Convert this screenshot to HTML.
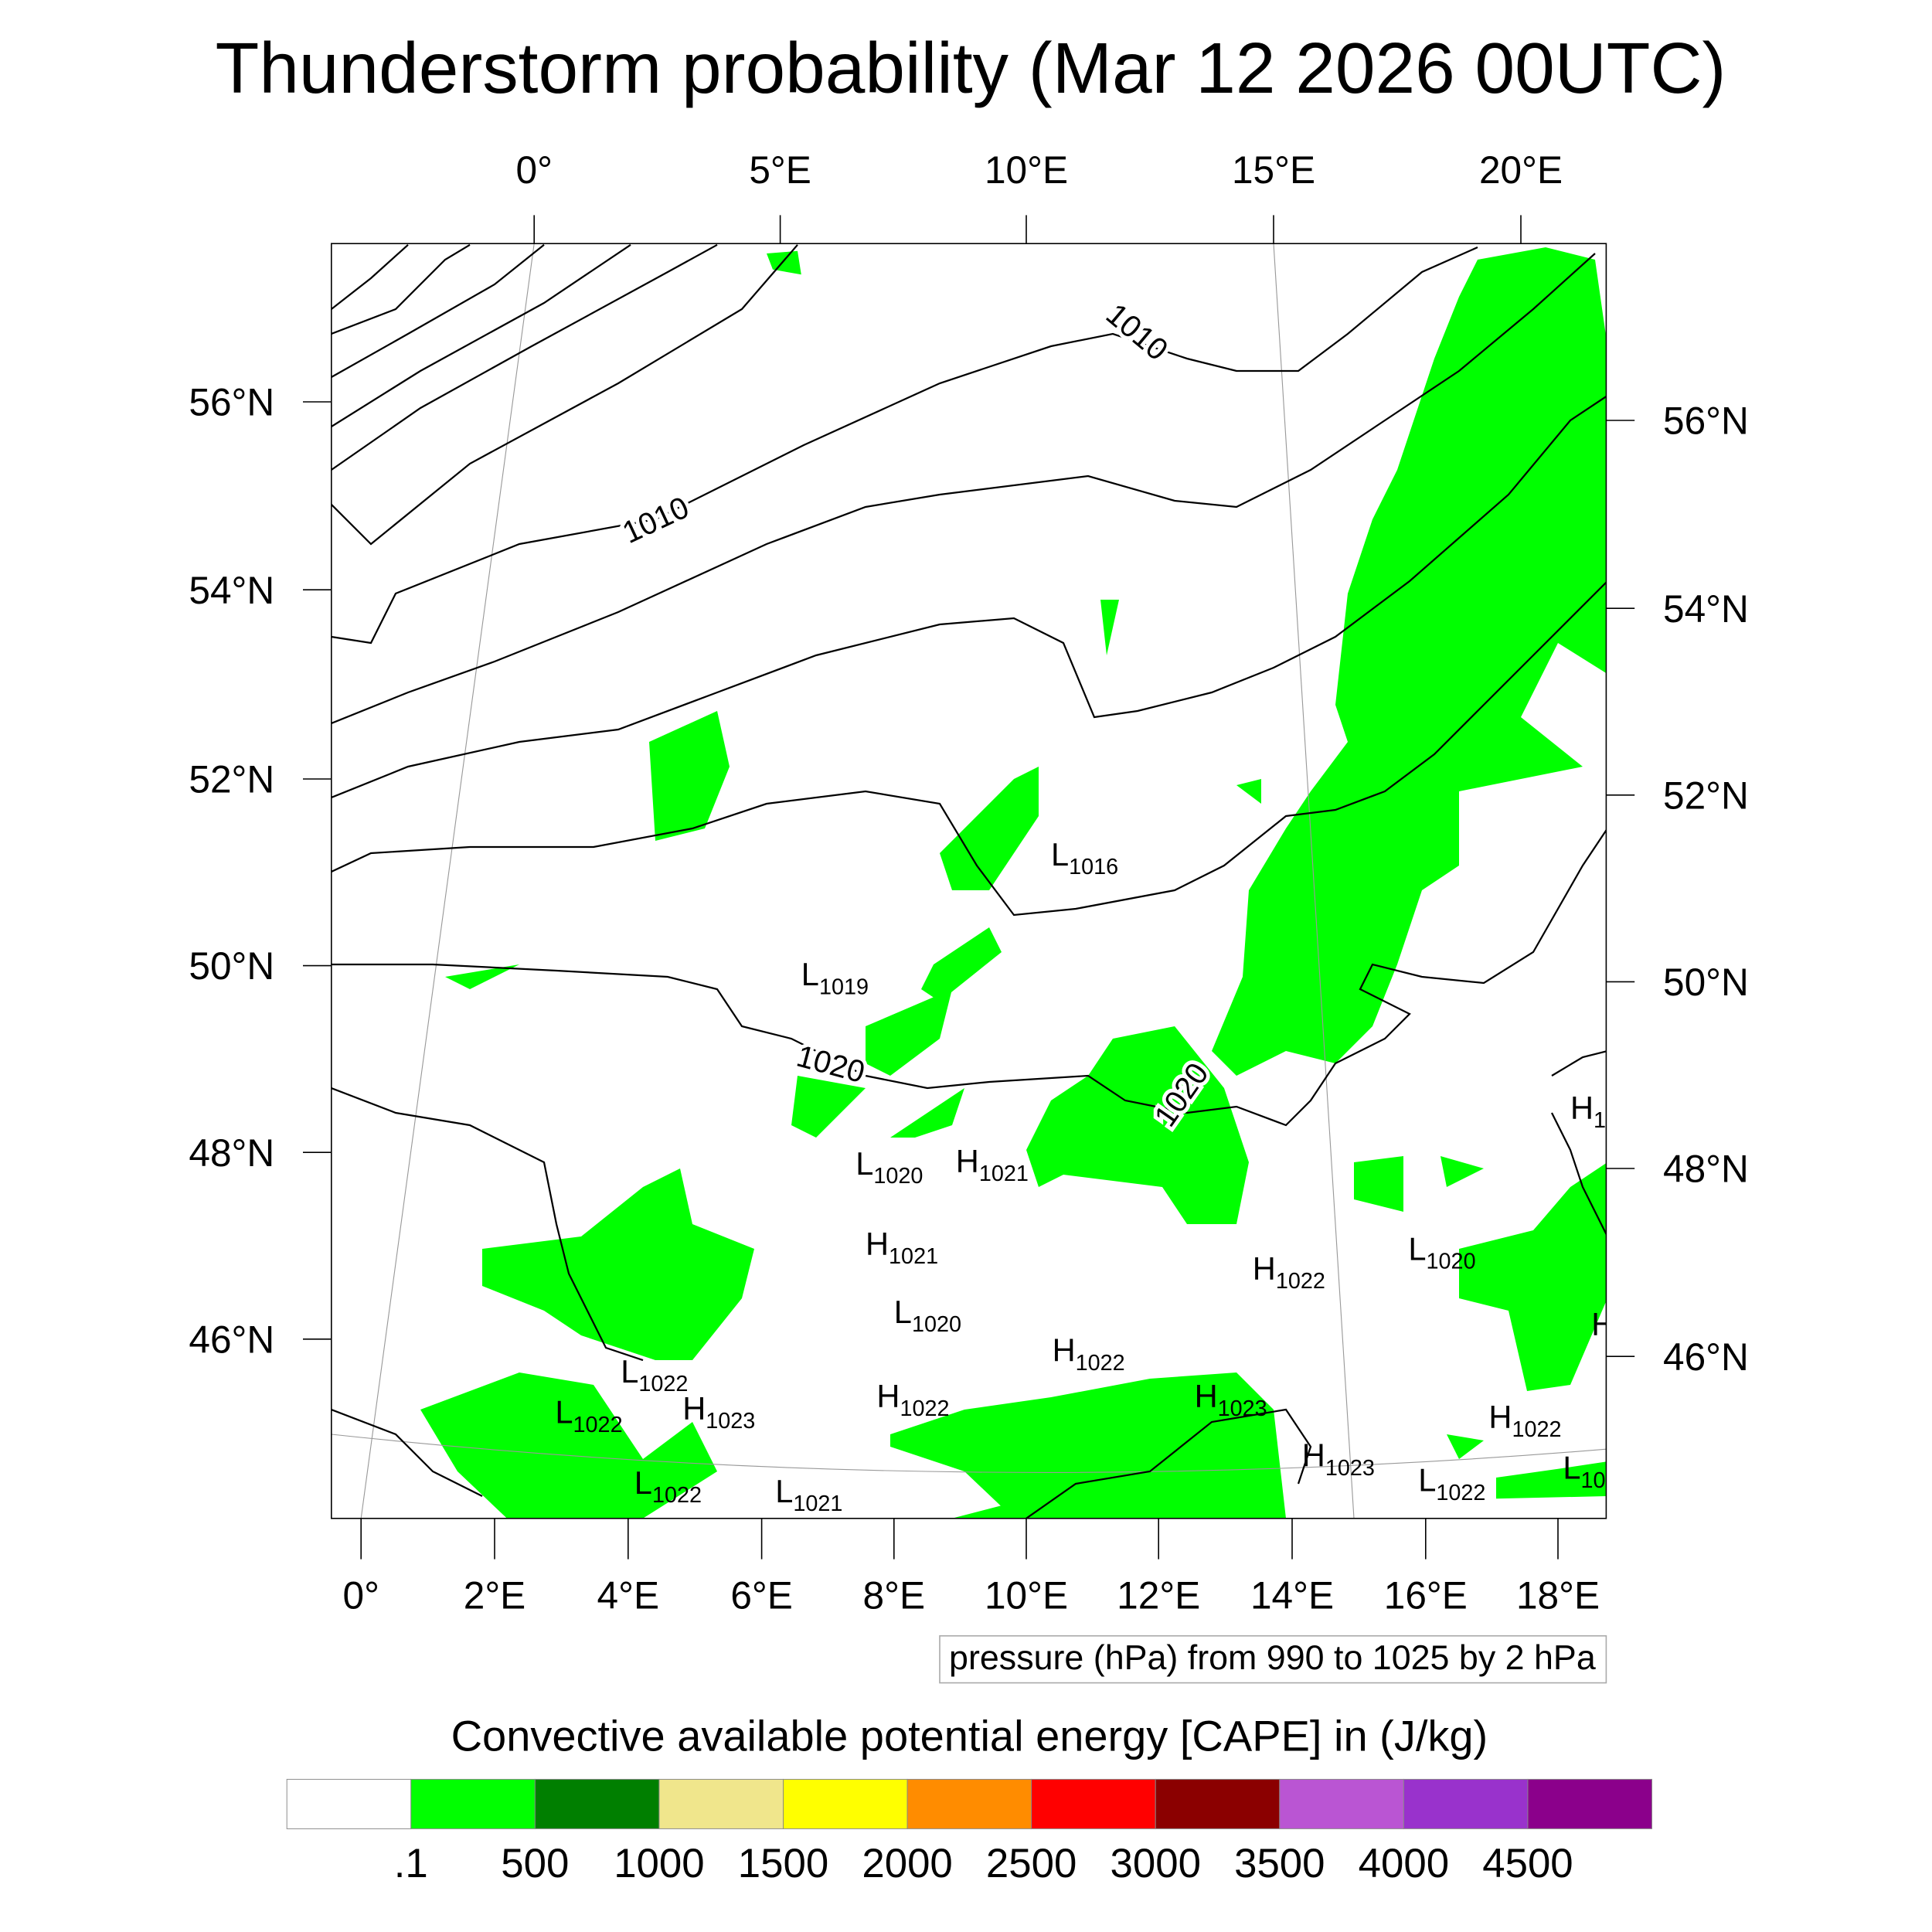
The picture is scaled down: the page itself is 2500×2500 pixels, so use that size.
<!DOCTYPE html>
<html><head><meta charset="utf-8"><style>
html,body{margin:0;padding:0;background:#fff}
svg{display:block}
text{font-family:"Liberation Sans",sans-serif;fill:#000}
</style></head><body>
<svg width="2500" height="2500" viewBox="0 0 1562.5 1562.5">
<rect width="1562.5" height="1562.5" fill="#fff"/>
<text x="785" y="75" font-size="58" text-anchor="middle">Thunderstorm probability (Mar 12 2026 00UTC)</text>
<defs><clipPath id="mc"><rect x="268" y="197" width="1031" height="1031"/></clipPath></defs>
<g id="map" clip-path="url(#mc)"></g>
<rect x="268" y="197" width="1031" height="1031" fill="none" stroke="#000" stroke-width="1"/>
<g id="axes"></g>
<rect x="760" y="1323" width="539" height="38" fill="#fff" stroke="#aaa" stroke-width="1"/>
<text x="1029" y="1350" font-size="28" text-anchor="middle">pressure (hPa) from 990 to 1025 by 2 hPa</text>
<text x="784" y="1416" font-size="35" text-anchor="middle">Convective available potential energy [CAPE] in (J/kg)</text>
<g id="cbar"></g>
</svg>
<script>
const NS='http://www.w3.org/2000/svg';
function mk(tag,attrs,parent,txt){const e=document.createElementNS(NS,tag);for(const k in attrs)e.setAttribute(k,attrs[k]);if(txt!==undefined)e.textContent=txt;parent.appendChild(e);return e;}
const map=document.getElementById('map'),axes=document.getElementById('axes'),cbar=document.getElementById('cbar');

// colorbar data
const cbLevels=['.1','500','1000','1500','2000','2500','3000','3500','4000','4500'];
const cbColors=['#ffffff','#00ff00','#007f00','#f0e68c','#ffff00','#ff8c00','#ff0000','#8b0000','#ba55d3','#9932cc','#8b008b'];
const cbX0=232,cbW=100.36,cbY=1439,cbH=40;
cbColors.forEach((c,i)=>{const r=mk('rect',{x:cbX0+i*cbW,y:cbY,width:cbW,height:cbH,fill:c,stroke:'#888','stroke-width':0.6},cbar);

});
cbLevels.forEach((l,i)=>{const t=mk('text',{x:cbX0+(i+1)*cbW,y:1518,'font-size':33,'text-anchor':'middle'},cbar,l);

});

// axis labels
const topLon=['0°','5°E','10°E','15°E','20°E'];const topX=[432,631,830,1030,1230];
topLon.forEach((l,i)=>{mk('line',{x1:topX[i],y1:174,x2:topX[i],y2:197,stroke:'#000'},axes);
const t=mk('text',{x:topX[i],y:148,'font-size':31,'text-anchor':'middle'},axes,l);

});
const botLon=['0°','2°E','4°E','6°E','8°E','10°E','12°E','14°E','16°E','18°E'];const botX=[292,400,508,616,723,830,937,1045,1153,1260];
botLon.forEach((l,i)=>{mk('line',{x1:botX[i],y1:1228,x2:botX[i],y2:1261,stroke:'#000'},axes);
const t=mk('text',{x:botX[i],y:1301,'font-size':31,'text-anchor':'middle'},axes,l);

});
const lats=['56°N','54°N','52°N','50°N','48°N','46°N'];const leftY=[325,477,630,781,932,1083];const rightY=[340,492,643,794,945,1097];
lats.forEach((l,i)=>{mk('line',{x1:245,y1:leftY[i],x2:268,y2:leftY[i],stroke:'#000'},axes);
const a=mk('text',{x:222,y:leftY[i]+11,'font-size':31,'text-anchor':'end'},axes,l);


mk('line',{x1:1299,y1:rightY[i],x2:1322,y2:rightY[i],stroke:'#000'},axes);
const b=mk('text',{x:1345,y:rightY[i]+11,'font-size':31},axes,l);

});

// green CAPE areas
const greenAreas=[
[[1195,210],[1250,200],[1290,210],[1300,280],[1300,545],[1260,520],[1230,580],[1280,620],[1180,640],[1180,700],[1150,720],[1130,780],[1110,830],[1080,860],[1040,850],[1000,870],[980,850],[1005,790],[1010,720],[1040,670],[1060,640],[1090,600],[1080,570],[1090,480],[1110,420],[1130,380],[1160,290],[1180,240]],
[[900,840],[950,830],[990,880],[1010,940],[1000,990],[960,990],[940,960],[860,950],[840,960],[830,930],[850,890],[880,870]],
[[760,690],[820,630],[840,620],[840,660],[800,720],[770,720]],
[[755,780],[800,750],[810,770],[760,810],[745,800]],
[[700,830],[770,800],[760,840],[720,870],[700,860]],
[[645,870],[700,880],[660,920],[640,910]],
[[720,920],[780,880],[770,910],[740,920]],
[[390,1010],[470,1000],[520,960],[550,945],[560,990],[610,1010],[600,1050],[560,1100],[530,1100],[500,1090],[470,1080],[440,1060],[390,1040]],
[[340,1140],[420,1110],[480,1120],[520,1180],[560,1150],[580,1190],[520,1228],[410,1228],[370,1190]],
[[720,1160],[780,1140],[850,1130],[930,1115],[1000,1110],[1030,1140],[1040,1228],[820,1228],[780,1190],[720,1170]],
[[525,600],[580,575],[590,620],[570,670],[530,680]],
[[1180,1010],[1240,995],[1270,960],[1300,940],[1300,1050],[1270,1120],[1235,1125],[1220,1060],[1180,1050]],
[[1095,940],[1135,935],[1135,980],[1095,970]],
[[1165,935],[1200,945],[1170,960]],
[[1210,1195],[1260,1188],[1300,1182],[1300,1210],[1210,1212]],
[[620,205],[645,203],[648,222],[625,218]],
[[1000,635],[1020,630],[1020,650]],
[[890,485],[905,485],[895,530]],
[[1170,1160],[1200,1165],[1180,1180]],
[[360,790],[420,780],[380,800]],
[[770,1228],[820,1215],[830,1228]]
];
greenAreas.forEach(p=>{const e=mk('polygon',{points:p.map(q=>q.join(',')).join(' '),fill:'#00ff00'},map);

});

// graticule
mk('line',{x1:432,y1:197,x2:292,y2:1228,stroke:'#999','stroke-width':0.7},map);
mk('line',{x1:1030,y1:197,x2:1095,y2:1228,stroke:'#999','stroke-width':0.7},map);
mk('path',{d:'M268,1160 Q780,1215 1299,1172',fill:'none',stroke:'#999','stroke-width':0.7},map);

// isobars
const isobars=[
[[268,250],[300,225],[330,198]],
[[268,270],[320,250],[360,210],[380,198]],
[[268,305],[330,270],[400,230],[440,198]],
[[268,345],[340,300],[440,245],[510,198]],
[[268,380],[340,330],[430,280],[540,220],[580,198]],
[[268,408],[300,440],[380,375],[500,310],[600,250],[645,198]],
[[268,515],[300,520],[320,480],[420,440],[530,420],[650,360],[760,310],[850,280],[900,270],[960,290],[1000,300],[1050,300],[1090,270],[1150,220],[1195,200]],
[[268,585],[330,560],[400,535],[500,495],[620,440],[700,410],[760,400],[880,385],[950,405],[1000,410],[1060,380],[1120,340],[1180,300],[1240,250],[1290,205]],
[[268,645],[330,620],[420,600],[500,590],[580,560],[660,530],[760,505],[820,500],[860,520],[885,580],[920,575],[980,560],[1030,540],[1080,515],[1140,470],[1220,400],[1270,340],[1300,320]],
[[268,705],[300,690],[380,685],[480,685],[560,670],[620,650],[700,640],[760,650],[790,700],[820,740],[870,735],[950,720],[990,700],[1040,660],[1080,655],[1120,640],[1160,610],[1200,570],[1240,530],[1300,470]],
[[268,780],[350,780],[450,785],[540,790],[580,800],[600,830],[640,840],[700,870],[750,880],[800,875],[880,870],[910,890],[960,900],[1000,895],[1040,910],[1060,890],[1080,860],[1100,850],[1120,840],[1140,820],[1100,800],[1110,780],[1150,790],[1200,795],[1240,770],[1280,700],[1300,670]],
[[268,880],[320,900],[380,910],[440,940],[450,990],[460,1030],[490,1090],[520,1100]],
[[268,1140],[320,1160],[350,1190],[390,1210]],
[[1255,870],[1280,855],[1300,850]],
[[1255,900],[1270,930],[1280,960],[1300,1000]],
[[830,1228],[870,1200],[930,1190],[980,1150],[1040,1140],[1060,1170],[1050,1200]]
];
isobars.forEach(p=>{const e=mk('polyline',{points:p.map(q=>q.join(',')).join(' '),fill:'none',stroke:'#000','stroke-width':1.4},map);

});

// contour labels
const cLabels=[['1010',530,420,-25],['1010',920,268,40],['1020',672,860,15],['1020',955,885,-55]];
cLabels.forEach(c=>{const t=mk('text',{x:c[1],y:c[2]+9,'font-size':25,'text-anchor':'middle',transform:`rotate(${c[3]} ${c[1]} ${c[2]})`,stroke:'#fff','stroke-width':6,'paint-order':'stroke'},map,c[0]);

});

// H/L markers
const hlText=['L','L','L','H','H','L','H','H','H','L','L','H','L','H','H','H','L','L','L','H','L','H'];
const hlVal=['1016','1019','1020','1021','1021','1020','1022','1022','1022','1022','1022','1023','1022','1023','1023','1022','1020','1022','1021','1','10','1'];
const hlX=[850,648,692,773,700,723,1013,851,709,502,449,552,513,966,1053,1204,1139,1147,627,1270,1264,1287];
const hlY=[700,797,950,948,1015,1070,1035,1101,1138,1118,1151,1148,1208,1138,1186,1155,1019,1206,1215,905,1196,1080];
hlText.forEach((h,i)=>{const t=mk('text',{x:hlX[i],y:hlY[i],'font-size':26},map);


t.appendChild(document.createTextNode(h));
const s=document.createElementNS(NS,'tspan');s.setAttribute('font-size','18');s.setAttribute('dy','7');s.textContent=hlVal[i];t.appendChild(s);});
</script>
</body></html>
